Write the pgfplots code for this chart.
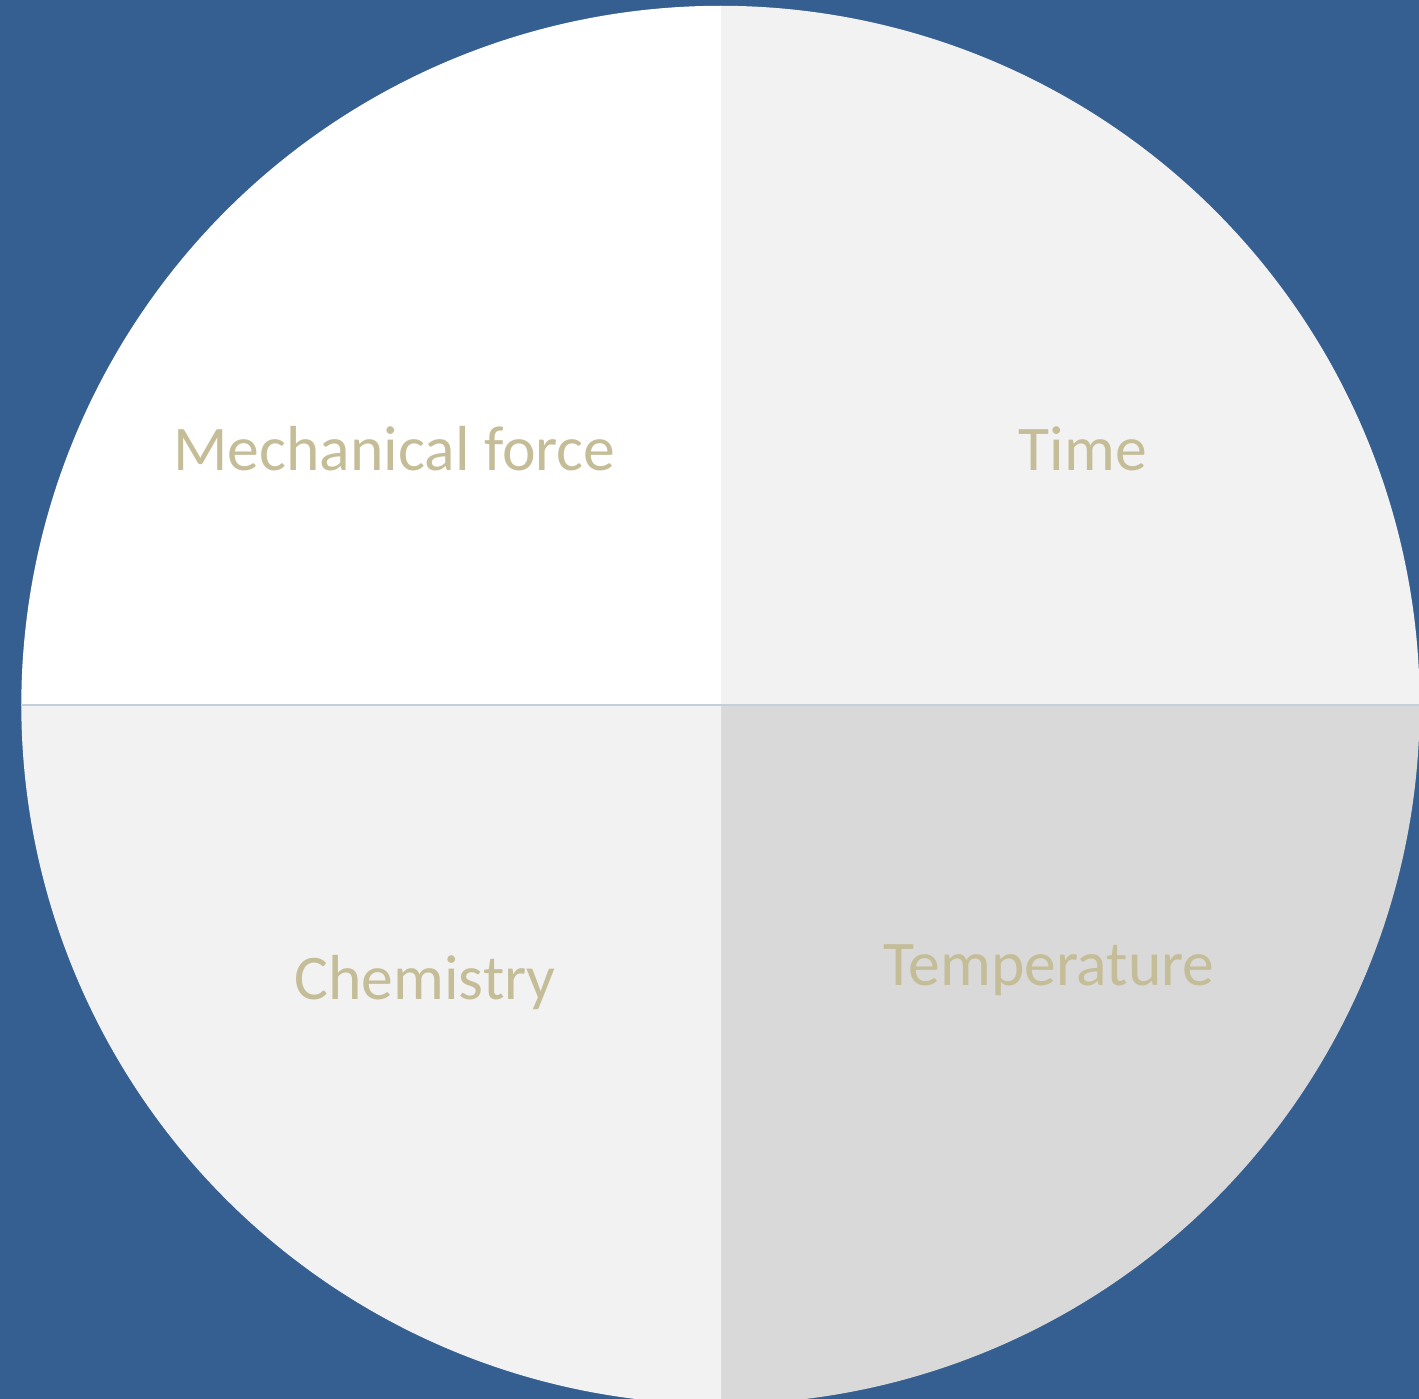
\documentclass[border=0pt]{standalone}
\usepackage{pgfplots}
\usepackage{pgfplotstable}
\pgfplotsset{compat=1.18}
\usepackage{fontspec}
\setmainfont{Carlito}
\definecolor{bgblue}{HTML}{365F91}
\definecolor{txtcol}{HTML}{C4BD97}
\definecolor{slice0}{HTML}{F2F2F2}
\definecolor{slice1}{HTML}{D9D9D9}
\definecolor{slice2}{HTML}{F2F2F2}
\definecolor{slice3}{HTML}{FFFFFF}
\definecolor{sepcol}{HTML}{C5CEDB}
\pgfplotstableread{
label value
Time 25
Temperature 25
Chemistry 25
{Mechanical force} 25
}\piedata
\begin{document}
\begin{tikzpicture}
\def\cum{0}
\pgfplotsforeachungrouped \i in {0,...,3}{%
  \pgfplotstablegetelem{\i}{value}\of\piedata
  \let\val\pgfplotsretval
  \pgfmathsetmacro\sa{90-3.6*\cum}%
  \pgfmathsetmacro\cum{\cum+\val}%
  \pgfmathsetmacro\ea{90-3.6*\cum}%
  \expandafter\xdef\csname sa\i\endcsname{\sa}%
  \expandafter\xdef\csname ea\i\endcsname{\ea}%
}
\begin{axis}[
  width=14.19cm, height=13.99cm, scale only axis,
  xmin=-1.0315, xmax=1.0000, ymin=-0.9936, ymax=1.0093,
  hide axis, clip=true,
]
\fill[bgblue] (rel axis cs:0,0) rectangle (rel axis cs:1,1);
\pgfplotsinvokeforeach{0,...,3}{%
  \filldraw[fill=slice#1, draw=slice#1, line width=0.4pt, line join=round] (axis cs:0,0) -- (axis cs:{cos(\csname sa#1\endcsname)},{sin(\csname sa#1\endcsname)}) arc[start angle=\csname sa#1\endcsname, end angle=\csname ea#1\endcsname, radius=1] -- cycle;
}
\addplot[sepcol, line width=0.35pt] coordinates {(-1,0) (1,0)};
\node[txtcol, anchor=base, font=\fontsize{18.1}{22}\selectfont] at (axis cs:-0.4667,0.335) {Mechanical force};
\node[txtcol, anchor=base, font=\fontsize{18.1}{22}\selectfont] at (axis cs:0.519,0.335) {Time};
\node[txtcol, anchor=base, font=\fontsize{18.1}{22}\selectfont] at (axis cs:-0.423,-0.422) {Chemistry};
\node[txtcol, anchor=base, font=\fontsize{18.1}{22}\selectfont] at (axis cs:0.470,-0.401) {Temperature};
\end{axis}
\end{tikzpicture}
\end{document}
